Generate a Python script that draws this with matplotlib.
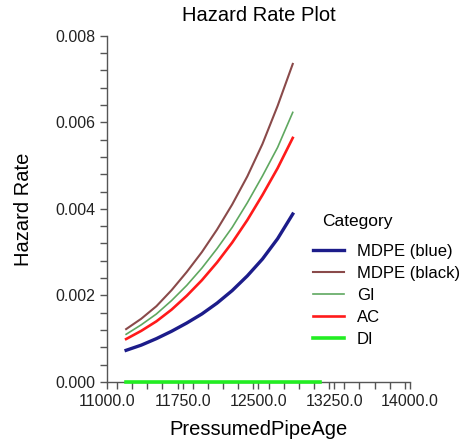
import matplotlib
matplotlib.use("Agg")
import matplotlib.pyplot as plt
from matplotlib.ticker import MultipleLocator, FormatStrFormatter

plt.rcParams['font.family'] = ['Liberation Sans', 'DejaVu Sans']

# pipe age (x) for the fitted curves
age = [11190, 11340, 11490, 11640, 11790, 11940, 12090, 12240, 12390, 12540, 12690, 12840]

mdpe_blue = [0.00073, 0.00085, 0.00100, 0.00117, 0.00136, 0.00157, 0.00182, 0.00211, 0.00245, 0.00284, 0.00331, 0.00388]
mdpe_black = [0.00122, 0.00146, 0.00175, 0.00212, 0.00254, 0.00300, 0.00352, 0.00410, 0.00475, 0.00550, 0.00638, 0.00735]
gi = [0.00110, 0.00132, 0.00157, 0.00188, 0.00223, 0.00263, 0.00308, 0.00357, 0.00414, 0.00476, 0.00542, 0.00623]
ac = [0.00099, 0.00118, 0.00140, 0.00167, 0.00199, 0.00235, 0.00276, 0.00322, 0.00374, 0.00432, 0.00494, 0.00564]

di_age = [11190, 13110]
di = [0.0, 0.0]

xticks = [11000, 11750, 12500, 13250, 14000]

fig = plt.figure(figsize=(4.69, 4.42), dpi=100)
ax = fig.add_axes([0.228, 0.136, 0.646, 0.783])

ax.plot(age, mdpe_blue, color='#1c1c8a', lw=2.4, label='MDPE (blue)')
ax.plot(age, mdpe_black, color='#8a4a4a', lw=1.5, label='MDPE (black)')
ax.plot(age, gi, color='#5fa860', lw=1.2, label='GI')
ax.plot(age, ac, color='#ff1a1a', lw=1.9, label='AC')
ax.plot(di_age, di, color='#22ee22', lw=2.6, label='DI', clip_on=False, zorder=5)

ax.set_xlim(11000, 14000)
ax.set_ylim(0, 0.008)
ax.set_xticks(xticks)
ax.xaxis.set_minor_locator(MultipleLocator(150))
ax.yaxis.set_major_locator(MultipleLocator(0.002))
ax.yaxis.set_minor_locator(MultipleLocator(0.0004))
ax.xaxis.set_major_formatter(FormatStrFormatter('%.1f'))
ax.yaxis.set_major_formatter(FormatStrFormatter('%.3f'))

for s in ['top', 'right']:
    ax.spines[s].set_visible(False)
for s in ['left', 'bottom']:
    ax.spines[s].set_color('#555555')
    ax.spines[s].set_linewidth(1.0)
ax.tick_params(which='both', direction='out', length=5, width=1, color='#555555',
               labelsize=11.5, labelcolor='#222222')

ax.set_title('Hazard Rate Plot', fontsize=14.5, pad=11)
ax.set_xlabel('PressumedPipeAge', fontsize=14.5, labelpad=8)
ax.set_ylabel('Hazard Rate', fontsize=14.5, labelpad=16)

# legend title drawn separately, indented like the original
fig.text(0.686, 0.498, 'Category', fontsize=12.5, va='center', ha='left')
leg = ax.legend(loc='upper left', bbox_to_anchor=(0.667, 0.449), bbox_transform=fig.transFigure,
                frameon=False, fontsize=12, borderpad=0, borderaxespad=0,
                handlelength=1.9, handletextpad=0.75, labelspacing=0.42)

fig.savefig('out.png', dpi=100)
